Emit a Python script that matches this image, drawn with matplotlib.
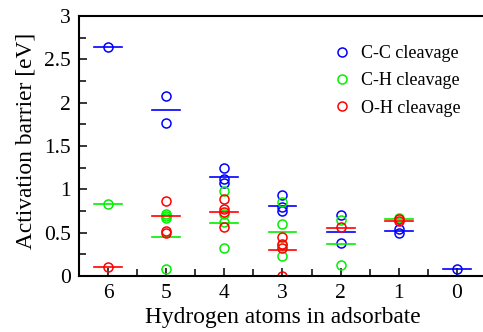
import matplotlib
matplotlib.use("Agg")
import matplotlib.pyplot as plt
from matplotlib.ticker import MultipleLocator, FuncFormatter

plt.rcParams['font.family'] = ['Liberation Serif', 'DejaVu Serif']

# C-C cleavage barriers
cc_h = [6, 5, 5, 4, 4, 4, 3, 3, 3, 2, 2, 1, 1, 0]
cc_e = [2.64, 2.08, 1.77, 1.25, 1.12, 1.07, 0.94, 0.80, 0.75, 0.70, 0.38, 0.54, 0.50, 0.08]
cc_mean_h = [6, 5, 4, 3, 2, 1, 0]
cc_mean = [2.64, 1.92, 1.14, 0.81, 0.51, 0.52, 0.08]

# C-H cleavage barriers
ch_h = [6, 5, 5, 5, 5, 4, 4, 4, 4, 3, 3, 3, 3, 2, 2, 1]
ch_e = [0.83, 0.71, 0.69, 0.67, 0.08, 0.98, 0.72, 0.62, 0.32, 0.85, 0.60, 0.36, 0.23, 0.65, 0.13, 0.67]
ch_mean_h = [6, 5, 4, 3, 2, 1]
ch_mean = [0.83, 0.45, 0.61, 0.51, 0.37, 0.66]

# O-H cleavage barriers
oh_h = [6, 5, 5, 5, 4, 4, 4, 4, 3, 3, 3, 3, 2, 1, 1]
oh_e = [0.10, 0.86, 0.52, 0.50, 0.89, 0.77, 0.74, 0.56, 0.45, 0.37, 0.32, 0.00, 0.56, 0.66, 0.64]
oh_mean_h = [6, 5, 4, 3, 2, 1]
oh_mean = [0.10, 0.69, 0.74, 0.30, 0.55, 0.63]

labels = ['C-C cleavage', 'C-H cleavage', 'O-H cleavage']
colors = ['#0000ff', '#00f000', '#ff0000']

fig = plt.figure(figsize=(4.83, 3.32), dpi=100)
ax = fig.add_axes([79/483, 56/332, 407/483, 260/332])

series = [(cc_h, cc_e, cc_mean_h, cc_mean), (ch_h, ch_e, ch_mean_h, ch_mean), (oh_h, oh_e, oh_mean_h, oh_mean)]
for (hx, he, mx, me), lab, col in zip(series, labels, colors):
    ax.plot(hx, he, linestyle='none', marker='o', markersize=6.5, markerfacecolor='none',
            markeredgecolor=col, markeredgewidth=1.1, label=lab)
    for x, m in zip(mx, me):
        ax.plot([x - 0.24, x + 0.24], [m, m], color=col, linewidth=1.2)

ax.set_xlim(6.5, -0.5)
ax.set_ylim(0, 3)
ax.xaxis.set_major_locator(MultipleLocator(1))
ax.xaxis.set_minor_locator(MultipleLocator(0.5))
ax.yaxis.set_major_locator(MultipleLocator(0.5))
ax.yaxis.set_minor_locator(MultipleLocator(0.25))
ax.yaxis.set_major_formatter(FuncFormatter(lambda v, p: f'{v:g}'))
ax.tick_params(which='both', direction='in', top=False, right=False, labelsize=15.5, width=1.1, pad=6)
ax.tick_params(which='major', length=6)
ax.tick_params(which='minor', length=5)
for s in ax.spines.values():
    s.set_linewidth(1.5)
ax.spines['right'].set_visible(False)

ax.set_xlabel('Hydrogen atoms in adsorbate', fontsize=16.8, labelpad=3)
ax.set_ylabel('Activation barrier [eV]', fontsize=16.8, labelpad=5)
ax.yaxis.label.set_y(0.52)

leg = ax.legend(loc='upper left', bbox_to_anchor=(0.607, 0.915), frameon=False, fontsize=13,
                handletextpad=0.55, labelspacing=0.56, handlelength=1.0, borderaxespad=0)

fig.savefig('out.png', dpi=100)
